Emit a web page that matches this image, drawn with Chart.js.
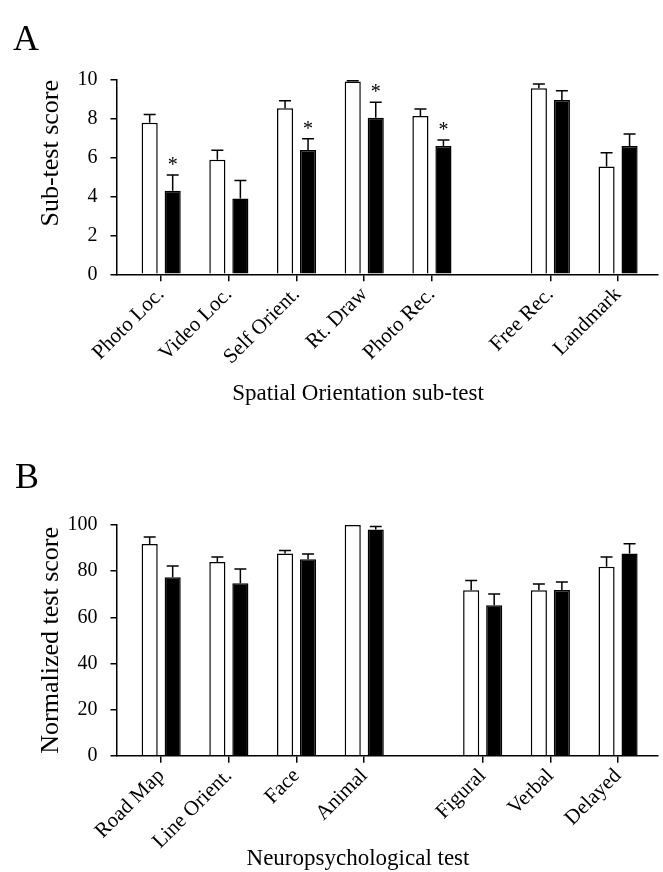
<!DOCTYPE html>
<html>
<head>
<meta charset="utf-8">
<script src="https://cdn.jsdelivr.net/npm/chart.js@4.4.0/dist/chart.umd.min.js"></script>
<style>
  body { margin: 0; background: #fff; width: 663px; height: 872px; position: relative; overflow: hidden; font-family: "Liberation Serif", serif; }
  .panel { position: absolute; left: 0; width: 663px; }
  #wrapA { top: 0; height: 440px; }
  #wrapB { top: 440px; height: 432px; }
  .letter { position: absolute; font-size: 36px; line-height: 36px; color: #000; z-index: 2; }
</style>
</head>
<body>
<div class="panel" id="wrapA"><canvas id="chartA"></canvas></div>
<div class="panel" id="wrapB"><canvas id="chartB"></canvas></div>
<div class="letter" style="left:13px;top:20px">A</div>
<div class="letter" style="left:15px;top:458px">B</div>
<script>
// Panel A: spatial orientation sub-tests
var subtests = ["Photo Loc.", "Video Loc.", "Self Orient.", "Rt. Draw", "Photo Rec.", "Free Rec.", "Landmark"];
var subtestSlot = [0, 1, 2, 3, 4, 5.75, 6.75]; // gap between the two groups
var subControl = [7.8, 5.9, 8.55, 9.92, 8.15, 9.57, 5.55];
var subControlErr = [0.42, 0.48, 0.38, 0.04, 0.36, 0.22, 0.71];
var subPatient = [4.3, 3.9, 6.4, 8.06, 6.6, 8.97, 6.6];
var subPatientErr = [0.81, 0.93, 0.58, 0.79, 0.31, 0.48, 0.62];
var subSignif = [true, false, true, true, true, false, false];
var subTicks = [0, 2, 4, 6, 8, 10];

// Panel B: neuropsychological tests
var neuroTests = ["Road Map", "Line Orient.", "Face", "Animal", "Figural", "Verbal", "Delayed"];
var neuroSlot = [0, 1, 2, 3, 4.75, 5.75, 6.75];
var neuroControl = [91.8, 84, 87.7, 100, 71.7, 71.7, 81.9];
var neuroControlErr = [3, 2.1, 1.3, 0, 4.2, 2.7, 4.2];
var neuroPatient = [77.3, 74.7, 85.1, 98.1, 65.2, 71.8, 87.7];
var neuroPatientErr = [4.9, 6.2, 2.3, 1.3, 4.9, 3.5, 4.2];
var neuroTicks = [0, 20, 40, 60, 80, 100];

Chart.defaults.font.family = '"Liberation Serif", "Times New Roman", serif';
Chart.defaults.color = '#000';

// error bars (upper half only) + significance stars
var errorBars = {
  id: 'errorBars',
  afterDatasetsDraw: function (chart) {
    var ctx = chart.ctx;
    var yScale = chart.scales.y;
    ctx.save();
    ctx.strokeStyle = '#000';
    ctx.fillStyle = '#000';
    ctx.lineWidth = 1.5;
    ctx.font = '20px "Liberation Serif", serif';
    ctx.textAlign = 'center';
    ctx.textBaseline = 'alphabetic';
    chart.data.datasets.forEach(function (ds, di) {
      var meta = chart.getDatasetMeta(di);
      meta.data.forEach(function (bar, i) {
        var err = ds.errors[i];
        var top = yScale.getPixelForValue(ds.data[i].y + err);
        if (err > 0) {
          ctx.beginPath();
          ctx.moveTo(bar.x, bar.y);
          ctx.lineTo(bar.x, top);
          ctx.moveTo(bar.x - 6, top);
          ctx.lineTo(bar.x + 6, top);
          ctx.stroke();
        }
        if (ds.signif && ds.signif[i]) {
          ctx.fillText('*', bar.x, top - 4);
        }
      });
    });
    ctx.restore();
  }
};

// x axis title, placed like in the figure (a bit left of the axis centre)
var xTitle = {
  id: 'xTitle',
  afterDraw: function (chart, args, opts) {
    var ctx = chart.ctx;
    ctx.save();
    ctx.fillStyle = '#000';
    ctx.font = '23px "Liberation Serif", serif';
    ctx.textAlign = 'center';
    ctx.textBaseline = 'alphabetic';
    ctx.fillText(opts.text, opts.x, opts.y);
    ctx.restore();
  }
};

function points(slots, values) {
  return values.map(function (v, i) { return { x: slots[i], y: v }; });
}

function makeChart(id, cfg) {
  var ctx = document.getElementById(id).getContext('2d');
  return new Chart(ctx, {
    type: 'bar',
    data: {
      datasets: [
        {
          label: 'Control',
          data: points(cfg.slots, cfg.control),
          errors: cfg.controlErr,
          backgroundColor: '#fff',
          borderColor: '#000',
          borderWidth: 1.5,
          barPercentage: 0.7,
          categoryPercentage: 0.68
        },
        {
          label: 'Patient',
          data: points(cfg.slots, cfg.patient),
          errors: cfg.patientErr,
          signif: cfg.signif,
          backgroundColor: '#000',
          borderColor: '#000',
          borderWidth: 1.5,
          barPercentage: 0.7,
          categoryPercentage: 0.68
        }
      ]
    },
    options: {
      responsive: true,
      maintainAspectRatio: false,
      animation: false,
      layout: { padding: { top: cfg.padTop, right: 5, left: 0, bottom: 0 } },
      plugins: {
        legend: { display: false },
        tooltip: { enabled: false },
        xTitle: { text: cfg.xTitle, x: 358, y: cfg.xTitleY }
      },
      scales: {
        x: {
          type: 'linear',
          min: -0.66,
          max: 7.34,
          offset: false,
          border: { color: '#000', width: 1.5 },
          grid: { drawOnChartArea: false, drawTicks: true, tickLength: 7, color: '#000', lineWidth: 1.5, offset: false },
          afterBuildTicks: function (scale) {
            scale.ticks = cfg.slots.map(function (s) { return { value: s }; });
          },
          ticks: {
            autoSkip: false,
            minRotation: 45,
            maxRotation: 45,
            padding: 1,
            font: { size: 21 },
            callback: function (v, i) { return cfg.names[i]; }
          },
          afterFit: function (scale) { scale.height = cfg.xHeight; }
        },
        y: {
          min: 0,
          max: cfg.yTicks[cfg.yTicks.length - 1],
          border: { color: '#000', width: 1.5 },
          grid: { drawOnChartArea: false, drawTicks: true, tickLength: 6, color: '#000', lineWidth: 1.5 },
          afterBuildTicks: function (scale) {
            scale.ticks = cfg.yTicks.map(function (t) { return { value: t }; });
          },
          ticks: { padding: 13, font: { size: 20 } },
          title: { display: true, text: cfg.yTitle, align: cfg.yAlign, font: { size: 26 }, padding: { top: 36, bottom: 0 } },
          afterFit: function (scale) { scale.width = 116.5; }
        }
      }
    },
    plugins: [errorBars, xTitle]
  });
}

var chartA = makeChart('chartA', {
  names: subtests, slots: subtestSlot,
  control: subControl, controlErr: subControlErr,
  patient: subPatient, patientErr: subPatientErr, signif: subSignif,
  yTicks: subTicks, yTitle: 'Sub-test score', yAlign: 'end',
  xTitle: 'Spatial Orientation sub-test', xTitleY: 400,
  padTop: 80, xHeight: 440 - 274.3
});

var chartB = makeChart('chartB', {
  names: neuroTests, slots: neuroSlot,
  control: neuroControl, controlErr: neuroControlErr,
  patient: neuroPatient, patientErr: neuroPatientErr, signif: null,
  yTicks: neuroTicks, yTitle: 'Normalized test score', yAlign: 'center',
  xTitle: 'Neuropsychological test', xTitleY: 425,
  padTop: 85, xHeight: 432 - 315.7
});
</script>
</body>
</html>
